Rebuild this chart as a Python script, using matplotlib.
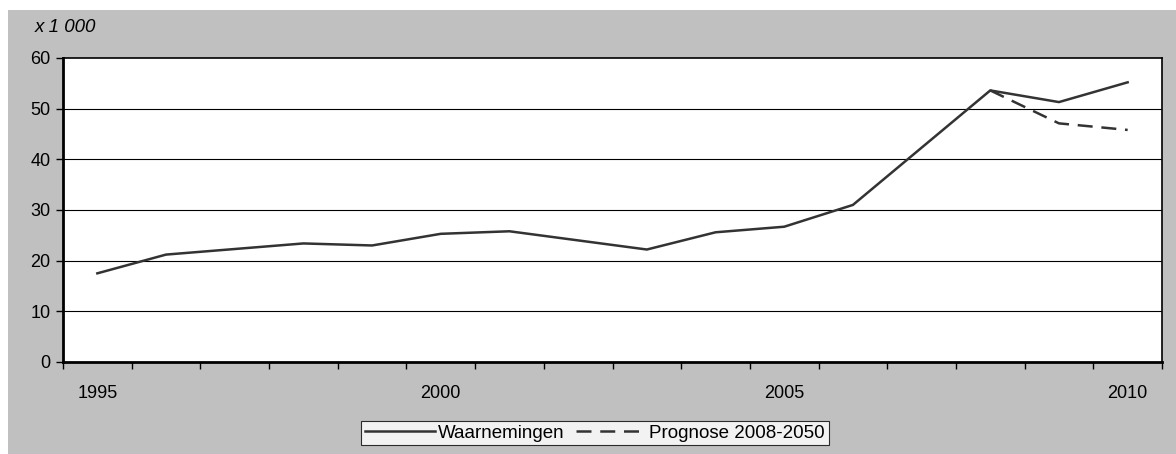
import matplotlib
matplotlib.use("Agg")
import matplotlib.pyplot as plt
from matplotlib.patches import Rectangle
import numpy as np

plt.rcParams['font.family'] = ['Liberation Sans', 'DejaVu Sans']

years = list(range(1995, 2011))
waarnemingen = [17.5, 21.2, 22.3, 23.4, 23.0, 25.3, 25.8, 24.0, 22.2, 25.6, 26.7, 31.0, 42.3, 53.6, 51.3, 55.2]
prognose_years = [2008, 2009, 2010]
prognose = [53.6, 47.1, 45.8]
xtick_labels = ['1995', '2000', '2005', '2010']
yticks = [0, 10, 20, 30, 40, 50, 60]

W, H = 1176, 454
FS = 13
fig = plt.figure(figsize=(W / 100, H / 100), dpi=100)
fig.patch.set_facecolor('white')
# gray chart area
fig.patches.append(Rectangle((8 / W, 0), 1 - 8 / W, (H - 10) / H, transform=fig.transFigure,
                             facecolor='#C0C0C0', edgecolor='none', zorder=-10))

left, right, top, bottom = 63, 1162, 58, 362
ax = fig.add_axes([left / W, 1 - bottom / H, (right - left) / W, (bottom - top) / H])
ax.set_zorder(1)
ax.set_facecolor('white')

n = len(years)
xpos = np.arange(n)
ax.plot(xpos, waarnemingen, color='#333333', lw=1.8, solid_joinstyle='miter', zorder=3,
        label='Waarnemingen')
px = [years.index(y) for y in prognose_years]
ax.plot(px, prognose, color='#333333', lw=1.8, dashes=(6, 3.5), zorder=3,
        label='Prognose 2008-2050')

ax.set_xlim(-0.5, n - 0.5)
ax.set_ylim(0, 60)
ax.set_yticks(yticks)
ax.set_yticklabels([str(v) for v in yticks], fontsize=FS)
for v in yticks[1:-1]:
    ax.axhline(v, color='black', lw=0.8, zorder=1)

# category boundaries ticks
ax.set_xticks(np.arange(-0.5, n, 1))
ax.set_xticklabels([])
ax.tick_params(axis='x', direction='out', length=5, width=1, color='black')
ax.tick_params(axis='y', direction='out', length=5, width=1, color='black', pad=4)
for lab in xtick_labels:
    i = years.index(int(lab))
    ax.text(i, -0.075, lab, transform=ax.get_xaxis_transform(), ha='center', va='top', fontsize=FS)

for s in ['left', 'bottom']:
    ax.spines[s].set_linewidth(2)
for s in ['top', 'right']:
    ax.spines[s].set_linewidth(1.2)

fig.text(35 / W, 1 - 27 / H, 'x 1 000', style='italic', fontsize=13.5, va='center', ha='left')

leg = ax.legend(loc='center', bbox_to_anchor=(595 / W, 1 - 433 / H), bbox_transform=fig.transFigure,
                ncol=2, frameon=True, fancybox=False, fontsize=13.5, handlelength=3.7,
                columnspacing=0.6, handletextpad=0.2, borderpad=0.2, borderaxespad=0)
leg.get_frame().set_edgecolor('black')
leg.get_frame().set_linewidth(0.8)

fig.savefig('out.png', dpi=100)
